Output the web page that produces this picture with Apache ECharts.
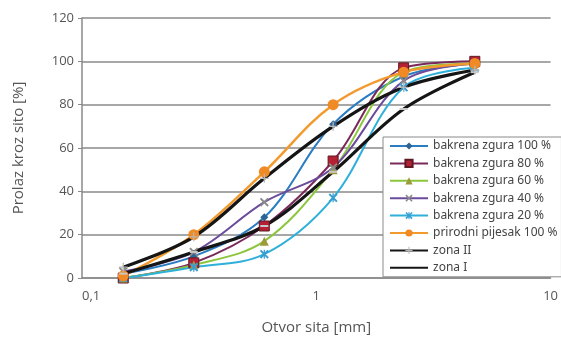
<!DOCTYPE html>
<html>
<head>
<meta charset="utf-8">
<script src="https://cdn.jsdelivr.net/npm/echarts@6/dist/echarts.min.js"></script>
<style>html,body{margin:0;padding:0;background:#fff}#c{width:561px;height:341px}</style>
</head>
<body>
<div id="c"></div>
<script>
const sieves = [0.15, 0.3, 0.6, 1.18, 2.36, 4.75];
const s100 = [2, 10, 28, 71, 93, 99];
const s80 = [0, 7, 24, 54, 97, 100];
const s60 = [0, 6, 17, 50, 95, 99];
const s40 = [3, 12, 35, 51, 91, 99];
const s20 = [0, 5, 11, 37, 88, 97];
const prirodni = [1, 20, 49, 80, 95, 99];
const zona2 = [5, 19, 46, 70, 88, 96];
const zona1 = [2, 12, 24, 49, 78, 95];
const names = ['bakrena zgura 100 %', 'bakrena zgura 80 %', 'bakrena zgura 60 %', 'bakrena zgura 40 %', 'bakrena zgura 20 %', 'prirodni pijesak 100 %', 'zona II', 'zona I'];
const yTicks = [0, 20, 40, 60, 80, 100, 120];

const pair = arr => sieves.map((x, i) => [x, arr[i]]);
const X = 'path://M0,1.5L1.5,0L5,3.5L8.5,0L10,1.5L6.5,5L10,8.5L8.5,10L5,6.5L1.5,10L0,8.5L3.5,5Z';
const AST = 'path://M0,1.5L1.5,0L5,3.5L8.5,0L10,1.5L6.5,5L10,8.5L8.5,10L5,6.5L1.5,10L0,8.5L3.5,5Z M4.3,0L5.7,0L5.7,10L4.3,10Z';
const PLUS = 'path://M4.3,0L5.7,0L5.7,4.3L10,4.3L10,5.7L5.7,5.7L5.7,10L4.3,10L4.3,5.7L0,5.7L0,4.3L4.3,4.3Z';
const DASH = 'rect';

function mk(name, data, lineColor, lw, symbol, size, symColor, border) {
  return {
    name: name, type: 'line', data: pair(data), smooth: 0.35,
    symbol: symbol, symbolSize: size,
    lineStyle: { color: lineColor, width: lw },
    itemStyle: { color: symColor, borderColor: border || symColor, borderWidth: border ? 1 : 0 },
    emphasis: { disabled: true }, z: 3
  };
}

const chart = echarts.init(document.getElementById('c'));
chart.setOption({
  animation: false,
  grid: { left: 82, right: 6, top: 18, bottom: 63 },
  textStyle: { fontFamily: 'Open Sans' },
  xAxis: {
    type: 'log', logBase: 10, min: 0.1, max: 10,
    name: 'Otvor sita [mm]', nameLocation: 'middle', nameGap: 42,
    nameTextStyle: { fontSize: 15, color: '#555' },
    axisLine: { show: true, lineStyle: { color: '#8a8a8a', width: 1.5 } },
    axisTick: { show: false },
    minorTick: { show: false },
    splitLine: { show: false },
    axisLabel: { color: '#555', fontSize: 13, margin: 12, alignMinLabel: 'left', formatter: v => String(v).replace('.', ',') }
  },
  yAxis: {
    type: 'value', min: 0, max: 120, interval: 20,
    name: 'Prolaz kroz sito [%]', nameLocation: 'middle', nameGap: 56,
    nameTextStyle: { fontSize: 15, color: '#555' },
    axisLine: { show: true, lineStyle: { color: '#8a8a8a', width: 1.5 } },
    axisTick: { show: true, length: 4, lineStyle: { color: '#8a8a8a' } },
    splitLine: { lineStyle: { color: '#8a8a8a', width: 1.5 } },
    axisLabel: { color: '#555', fontSize: 13, margin: 8, formatter: v => yTicks.includes(v) ? String(v) : '' }
  },
  legend: {
    orient: 'vertical', left: 383, top: 137,
    width: 173,
    backgroundColor: '#fff', borderColor: '#8a8a8a', borderWidth: 1,
    padding: [2, 4, 2, 6],
    itemWidth: 38, itemHeight: 9, itemGap: 3.4,
    textStyle: { fontSize: 12, color: '#444', fontFamily: 'Noto Sans', lineHeight: 14 },
    data: names.map(n => n === 'zona I' ? { name: n, itemStyle: { opacity: 0 } } : n)
  },
  series: [
    mk(names[0], s100, '#2b7cc2', 2, 'diamond', 8, '#2d6496'),
    mk(names[1], s80, '#7a2a5a', 2, 'rect', 10, '#b52034', '#5e1a22'),
    mk(names[2], s60, '#8cc63e', 2, 'triangle', 9, '#9e9a3a'),
    mk(names[3], s40, '#6b4b9b', 2, X, 9, '#8a8a8a'),
    mk(names[4], s20, '#2eb0da', 2, AST, 9, '#3a9fd0'),
    mk(names[5], prirodni, '#f39a2e', 2.5, 'circle', 11, '#f08a24'),
    mk(names[6], zona2, '#151515', 3.2, PLUS, 9, '#b8b8b8'),
    mk(names[7], zona1, '#151515', 3.2, DASH, [8, 2], '#c8c8c8')
  ]
});
</script>
</body>
</html>
